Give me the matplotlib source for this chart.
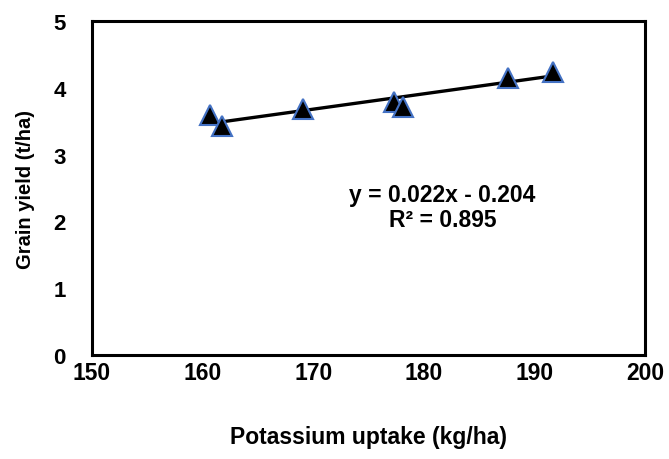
import numpy as np
import matplotlib.pyplot as plt

plt.rcParams['font.family'] = ['Liberation Sans', 'DejaVu Sans']
plt.rcParams['font.weight'] = 'bold'

# potassium uptake (kg/ha) vs grain yield (t/ha)
k_uptake = [160.7, 161.8, 169.05, 177.3, 178.1, 187.6, 191.7]
grain_yield = [3.60, 3.43, 3.68, 3.79, 3.71, 4.15, 4.24]

x_ticks = [150, 160, 170, 180, 190, 200]
y_ticks = [0, 1, 2, 3, 4, 5]
eq_text = 'y = 0.022x - 0.204'
r2_text = 'R\u00b2 = 0.895'

fig = plt.figure(figsize=(6.69, 4.60), dpi=100)
ax = fig.add_axes([0.1375, 0.226, 0.8265, 0.726])

# linear trendline over the data range
coef = np.polyfit(k_uptake, grain_yield, 1)
xs = np.array([min(k_uptake), max(k_uptake)])
ax.plot(xs, np.polyval(coef, xs), color='black', linewidth=2.4, zorder=2)

ax.plot(k_uptake, grain_yield, linestyle='none', marker='^', markersize=14,
        markerfacecolor='black', markeredgecolor='#4472C4', markeredgewidth=1.5, zorder=3)

ax.text(181.7, 2.40, eq_text, ha='center', va='center', fontsize=16.5, fontweight='bold')
ax.text(181.7, 2.03, r2_text, ha='center', va='center', fontsize=16.5, fontweight='bold')

ax.set_xlim(150, 200)
ax.set_ylim(0, 5)
ax.set_xticks(x_ticks)
ax.set_yticks(y_ticks)
ax.tick_params(axis='both', length=0)
ax.tick_params(axis='x', pad=4, labelsize=16.5)
ax.tick_params(axis='y', pad=19, labelsize=16)
for lab in ax.get_xticklabels() + ax.get_yticklabels():
    lab.set_fontweight('bold')
for sp in ax.spines.values():
    sp.set_linewidth(2.2)
    sp.set_color('black')

ax.set_xlabel('Potassium uptake (kg/ha)', fontsize=16.5, fontweight='bold', labelpad=30)
ax.set_ylabel('Grain yield (t/ha)', fontsize=14.5, fontweight='bold', labelpad=13)

plt.savefig('out.png', dpi=100)
